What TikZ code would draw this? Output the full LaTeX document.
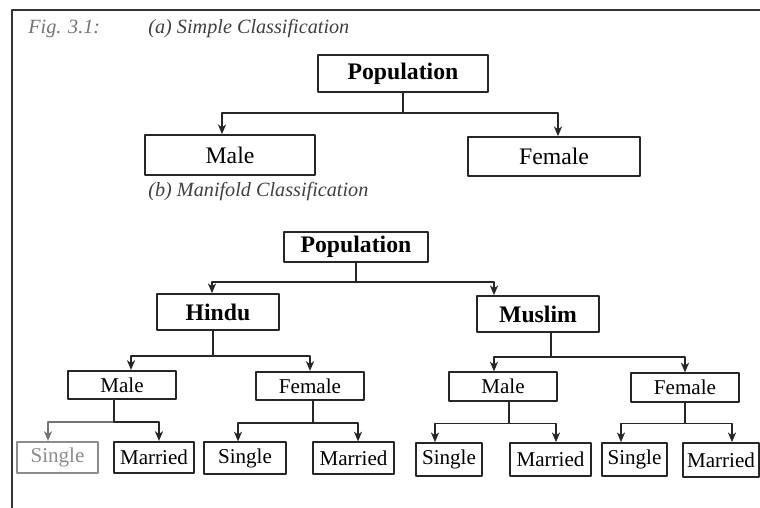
\documentclass[tikz,border=0pt]{standalone}
\usepackage{fontspec}
\setmainfont{Liberation Serif}
\usetikzlibrary{arrows.meta}

\begin{document}
\begin{tikzpicture}[line cap=round,line join=round,
  box/.style={draw=black!85,line width=0.95pt,inner sep=0pt},
  headbox/.style={box,font=\bfseries\fontsize{13.5}{16}\selectfont},
  bigbox/.style={box,font=\fontsize{13.5}{16}\selectfont},
  smallbox/.style={box,font=\fontsize{12}{14}\selectfont},
  arr/.style={draw=black!85,line width=0.9pt,-{Stealth[length=5.5pt,width=4.6pt,inset=1.6pt]}},
  figcaption/.style={font=\itshape\fontsize{11.5}{14}\selectfont,inner sep=0pt,anchor=west}]
  \useasboundingbox (0,0) rectangle (15.2,10.16);
  \draw[line width=1.1pt,black!80] (0.24,0) -- (0.24,9.96) -- (15.2,9.96);
  \node[figcaption,text=black!55] (fig) at (0.56,9.58) {Fig. 3.1:};
  \node[figcaption,text=black!75] (capa) at (2.96,9.58) {(a) Simple Classification};
  \node[figcaption,text=black!75] (capb) at (2.96,6.32) {(b) Manifold Classification};
  % (a) simple
  \node[headbox,minimum width=3.4cm,minimum height=0.74cm] (popa) at (8.06,8.69) {Population};
  \node[bigbox,minimum width=3.4cm,minimum height=0.8cm] (malea) at (4.6,7.06) {Male};
  \node[bigbox,minimum width=3.44cm,minimum height=0.78cm] (femalea) at (11.08,7.03) {Female};
  \draw[arr] (popa.south) -- ++(0,-0.4) -| ([xshift=-0.16cm]malea.north);
  \draw[arr] (popa.south) -- ++(0,-0.4) -| ([xshift=0.08cm]femalea.north);
  % (b) manifold
  \node[headbox,minimum width=2.88cm,minimum height=0.6cm] (popb) at (7.12,5.22) {Population};
  \node[headbox,minimum width=2.44cm,minimum height=0.72cm] (hindu) at (4.36,3.92) {Hindu};
  \node[headbox,minimum width=2.44cm,minimum height=0.72cm] (muslim) at (10.76,3.88) {Muslim};
  \draw[arr] (popb.south) -- ++(0,-0.38) -| ([xshift=-0.12cm]hindu.north);
  \draw[arr] (popb.south) -- ++(0,-0.38) -| ([xshift=-0.88cm]muslim.north);
  \node[smallbox,minimum width=2.16cm,minimum height=0.57cm] (hmale) at (2.44,2.46) {Male};
  \node[smallbox,minimum width=2.16cm,minimum height=0.57cm] (hfemale) at (6.2,2.44) {Female};
  \node[smallbox,minimum width=2.16cm,minimum height=0.57cm] (mmale) at (10.06,2.43) {Male};
  \node[smallbox,minimum width=2.16cm,minimum height=0.57cm] (mfemale) at (13.7,2.41) {Female};
  \draw[arr] ([xshift=-0.1cm]hindu.south) -- ++(0,-0.5) -| ([xshift=0.18cm]hmale.north);
  \draw[arr] ([xshift=-0.1cm]hindu.south) -- ++(0,-0.5) -| (hfemale.north);
  \draw[arr] ([xshift=0.26cm]muslim.south) -- ++(0,-0.48) -| ([xshift=-0.18cm]mmale.north);
  \draw[arr] ([xshift=0.26cm]muslim.south) -- ++(0,-0.48) -| (mfemale.north);
  \node[smallbox,draw=black!45,text=black!45,minimum width=1.62cm,minimum height=0.63cm] (hms) at (1.15,1.01) {Single};
  \node[smallbox,minimum width=1.6cm,minimum height=0.63cm] (hmm) at (3.08,1.01) {Married};
  \node[smallbox,minimum width=1.64cm,minimum height=0.63cm] (hfs) at (4.9,1.0) {Single};
  \node[smallbox,minimum width=1.62cm,minimum height=0.63cm] (hfm) at (7.07,1.0) {Married};
  \node[smallbox,minimum width=1.32cm,minimum height=0.66cm] (mms) at (8.98,0.97) {Single};
  \node[smallbox,minimum width=1.62cm,minimum height=0.66cm] (mmm) at (11.01,0.97) {Married};
  \node[smallbox,minimum width=1.3cm,minimum height=0.66cm] (mfs) at (12.69,0.97) {Single};
  \node[smallbox,minimum width=1.52cm,minimum height=0.68cm] (mfm) at (14.42,0.96) {Married};
  \draw[arr,black!55] ([xshift=-0.16cm]hmale.south) -- ++(0,-0.44) -| ([xshift=-0.19cm]hms.north);
  \draw[arr] ([xshift=-0.16cm]hmale.south) -- ++(0,-0.44) -| ([xshift=0.1cm]hmm.north);
  \draw[arr] ([xshift=0.06cm]hfemale.south) -- ++(0,-0.44) -| ([xshift=-0.14cm]hfs.north);
  \draw[arr] ([xshift=0.06cm]hfemale.south) -- ++(0,-0.44) -| ([xshift=0.09cm]hfm.north);
  \draw[arr] ([xshift=0.12cm]mmale.south) -- ++(0,-0.44) -| ([xshift=-0.28cm]mms.north);
  \draw[arr] ([xshift=0.12cm]mmale.south) -- ++(0,-0.44) -| ([xshift=0.11cm]mmm.north);
  \draw[arr] (mfemale.south) -- ++(0,-0.42) -| ([xshift=-0.27cm]mfs.north);
  \draw[arr] (mfemale.south) -- ++(0,-0.42) -| ([xshift=0.22cm]mfm.north);
\end{tikzpicture}
\end{document}
